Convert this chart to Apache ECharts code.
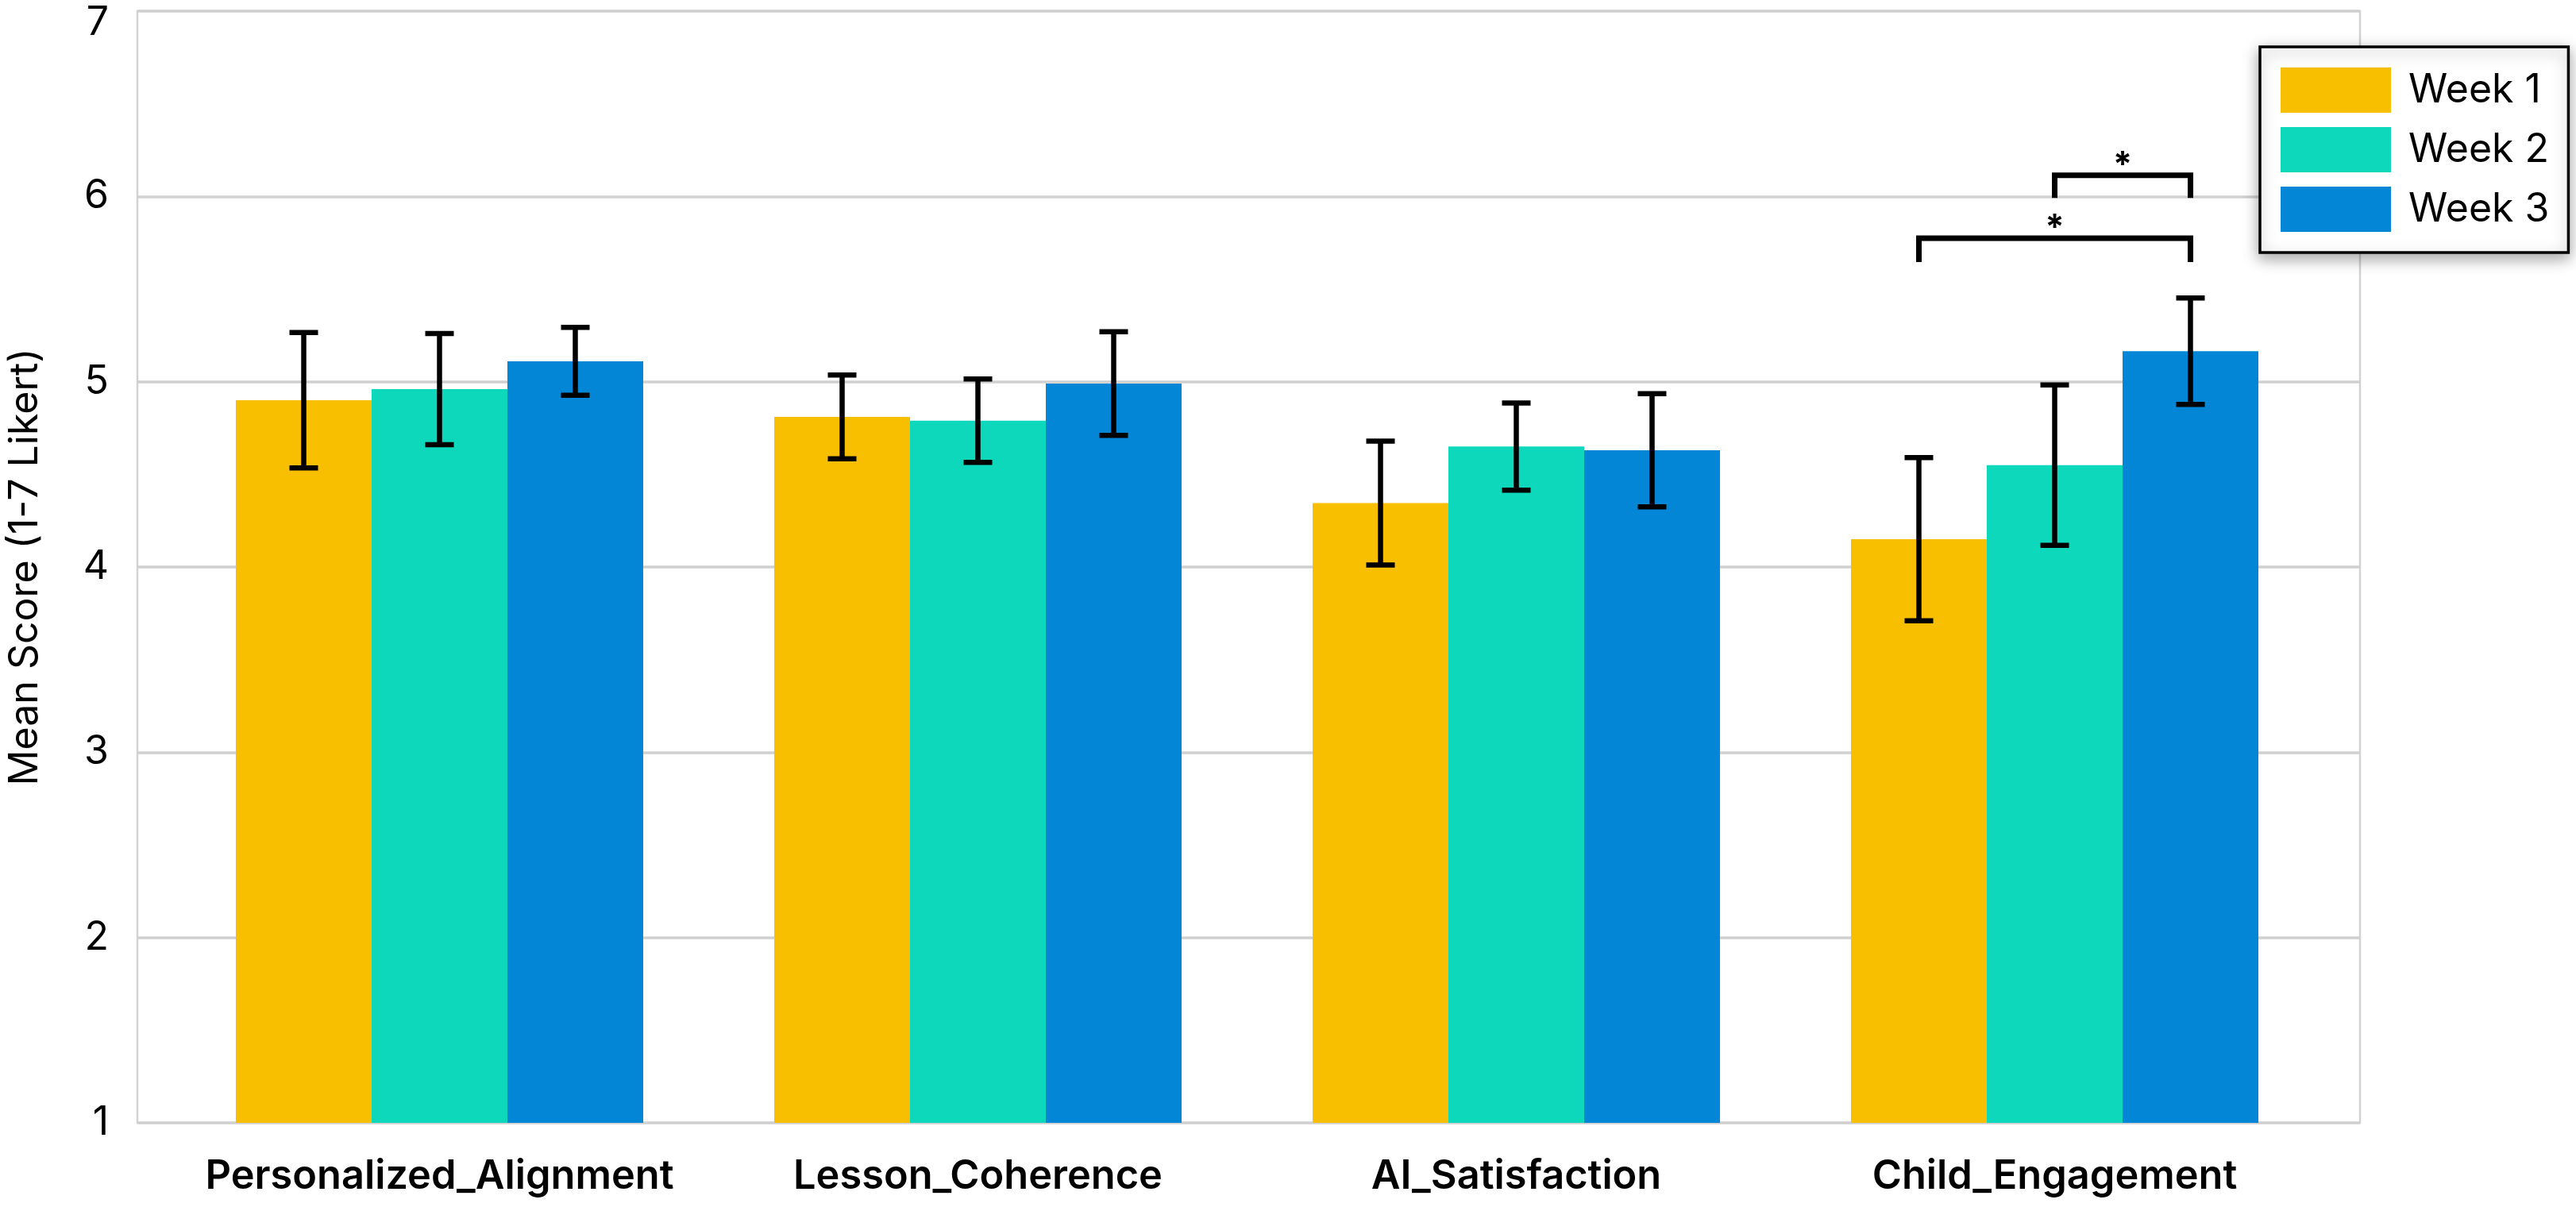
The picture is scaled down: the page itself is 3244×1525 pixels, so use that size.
<!DOCTYPE html>
<html>
<head>
<meta charset="utf-8">
<script src="https://cdn.jsdelivr.net/npm/echarts@6/dist/echarts.min.js"></script>
<style>
  html, body { margin: 0; padding: 0; background: #ffffff; }
  #chart { width: 3244px; height: 1525px; }
</style>
</head>
<body>
<div id="chart"></div>
<script>
// ---------------- data ----------------
const categories = ['Personalized_Alignment', 'Lesson_Coherence', 'AI_Satisfaction', 'Child_Engagement'];
const seriesNames = ['Week 1', 'Week 2', 'Week 3'];
const week1Mean = [4.90, 4.81, 4.345, 4.15];
const week1Err  = [0.365, 0.226, 0.334, 0.44];
const week2Mean = [4.96, 4.79, 4.65, 4.55];
const week2Err  = [0.30, 0.225, 0.235, 0.433];
const week3Mean = [5.11, 4.99, 4.63, 5.165];
const week3Err  = [0.183, 0.28, 0.305, 0.287];
const yTicks = [1, 2, 3, 4, 5, 6, 7];
// significance brackets: category index, left week, right week, bracket height, leg end, label
const bracketCategory = [3, 3];
const bracketLeft  = [0, 1];
const bracketRight = [2, 2];
const bracketTop   = [5.774, 6.114];
const bracketLeg   = [5.646, 5.992];
const bracketLabel = ['*', '*'];

// ---------------- style ----------------
const colors = ['#F8BF00', '#0ED8BC', '#0286D5'];
const FONT = 'Inter, "Noto Sans", sans-serif';
const CAT_GAP = 0.2434;   // fraction of band left empty between groups

const means = [week1Mean, week2Mean, week3Mean];
const errs = [week1Err, week2Err, week3Err];

function barCenterX(api, ci, w, yv) {
  const band = api.size([1, 0])[0];
  const barW = band * (1 - CAT_GAP) / 3;
  const p = api.coord([ci, yv]);
  return [p[0] + (w - 1) * barW, p[1]];
}

const barSeries = seriesNames.map((name, w) => ({
  name: name,
  type: 'bar',
  xAxisIndex: 1,
  yAxisIndex: 1,
  data: means[w],
  barGap: '0%',
  barCategoryGap: (CAT_GAP * 100) + '%',
  itemStyle: { color: colors[w] },
  z: 2
}));

const errSeries = seriesNames.map((name, w) => ({
  name: name + ' err',
  type: 'custom',
  xAxisIndex: 1,
  yAxisIndex: 1,
  z: 5,
  silent: true,
  data: means[w].map((m, i) => [i, m - errs[w][i], m + errs[w][i]]),
  renderItem: function (params, api) {
    const ci = api.value(0);
    const lo = barCenterX(api, ci, w, api.value(1));
    const hi = barCenterX(api, ci, w, api.value(2));
    const cap = 18;
    const st = { stroke: '#000', lineWidth: 6.5 };
    return {
      type: 'group',
      children: [
        { type: 'line', shape: { x1: lo[0], y1: lo[1], x2: hi[0], y2: hi[1] }, style: st },
        { type: 'line', shape: { x1: lo[0] - cap, y1: lo[1], x2: lo[0] + cap, y2: lo[1] }, style: st },
        { type: 'line', shape: { x1: hi[0] - cap, y1: hi[1], x2: hi[0] + cap, y2: hi[1] }, style: st }
      ]
    };
  }
}));

const bracketSeries = {
  name: 'brackets',
  type: 'custom',
  xAxisIndex: 1,
  yAxisIndex: 1,
  z: 6,
  silent: true,
  data: bracketCategory.map((c, i) => [c, bracketTop[i], bracketLeg[i], bracketLeft[i], bracketRight[i], i]),
  renderItem: function (params, api) {
    const ci = api.value(0);
    const top = api.value(1), leg = api.value(2);
    const l = api.value(3), r = api.value(4);
    const idx = api.value(5);
    const lt = barCenterX(api, ci, l, top), ll = barCenterX(api, ci, l, leg);
    const rt = barCenterX(api, ci, r, top), rl = barCenterX(api, ci, r, leg);
    return {
      type: 'group',
      children: [
        { type: 'polyline', shape: { points: [ll, lt, rt, rl] },
          style: { stroke: '#000', lineWidth: 7, fill: null, lineJoin: 'miter' } },
        { type: 'text', style: { text: bracketLabel[idx], x: (lt[0] + rt[0]) / 2, y: lt[1] - 12,
          align: 'center', verticalAlign: 'middle', fill: '#000',
          font: 'bold 44px ' + FONT } }
      ]
    };
  }
};

const chart = echarts.init(document.getElementById('chart'), null, { renderer: 'canvas' });
chart.setOption({
  backgroundColor: '#ffffff',
  animation: false,
  textStyle: { fontFamily: FONT },
  grid: [
    { left: 173, right: 272, top: 14, bottom: 111, show: true, borderColor: '#d2d2d2', borderWidth: 2.5,
      backgroundColor: 'transparent', containLabel: false, outerBoundsMode: 'none' },
    { left: 214.5, right: 317.5, top: 14, bottom: 111, containLabel: false, outerBoundsMode: 'none' }
  ],
  xAxis: [
    { gridIndex: 0, type: 'value', min: 0, max: 1, show: false },
    { gridIndex: 1, type: 'category', data: categories,
      axisLine: { show: false }, axisTick: { show: false },
      axisLabel: { fontSize: 50.5, fontWeight: 600, color: '#000', margin: 42, fontFamily: FONT, interval: 0 } }
  ],
  yAxis: [
    { gridIndex: 0, type: 'value', min: yTicks[0], max: yTicks[yTicks.length - 1], interval: 1,
      axisLine: { show: false }, axisTick: { show: false },
      axisLabel: { fontSize: 50, color: '#000', margin: 36, fontFamily: FONT, lineHeight: 30,
        verticalAlignMaxLabel: 'top' },
      splitLine: { show: true, lineStyle: { color: '#d0d0d0', width: 3.5 } },
      name: 'Mean Score (1-7 Likert)', nameLocation: 'middle', nameGap: 116,
      nameTextStyle: { fontSize: 50, color: '#000', fontFamily: FONT } },
    { gridIndex: 1, type: 'value', min: yTicks[0], max: yTicks[yTicks.length - 1], interval: 1, show: false,
      splitLine: { show: false } }
  ],
  legend: {
    data: seriesNames,
    orient: 'vertical',
    left: 2846,
    top: 59,
    backgroundColor: '#ffffff',
    borderColor: '#000000',
    borderWidth: 3.5,
    borderRadius: 0,
    padding: [26, 24, 26, 26],
    shadowBlur: 18,
    shadowColor: 'rgba(0,0,0,0.35)',
    shadowOffsetX: 0,
    shadowOffsetY: 6,
    itemWidth: 139,
    itemHeight: 57,
    itemGap: 18,
    icon: 'rect',
    selectedMode: false,
    textStyle: { fontSize: 50, color: '#000', fontFamily: FONT, padding: [0, 0, 0, 17] }
  },
  series: [...barSeries, ...errSeries, bracketSeries]
});
</script>
</body>
</html>
